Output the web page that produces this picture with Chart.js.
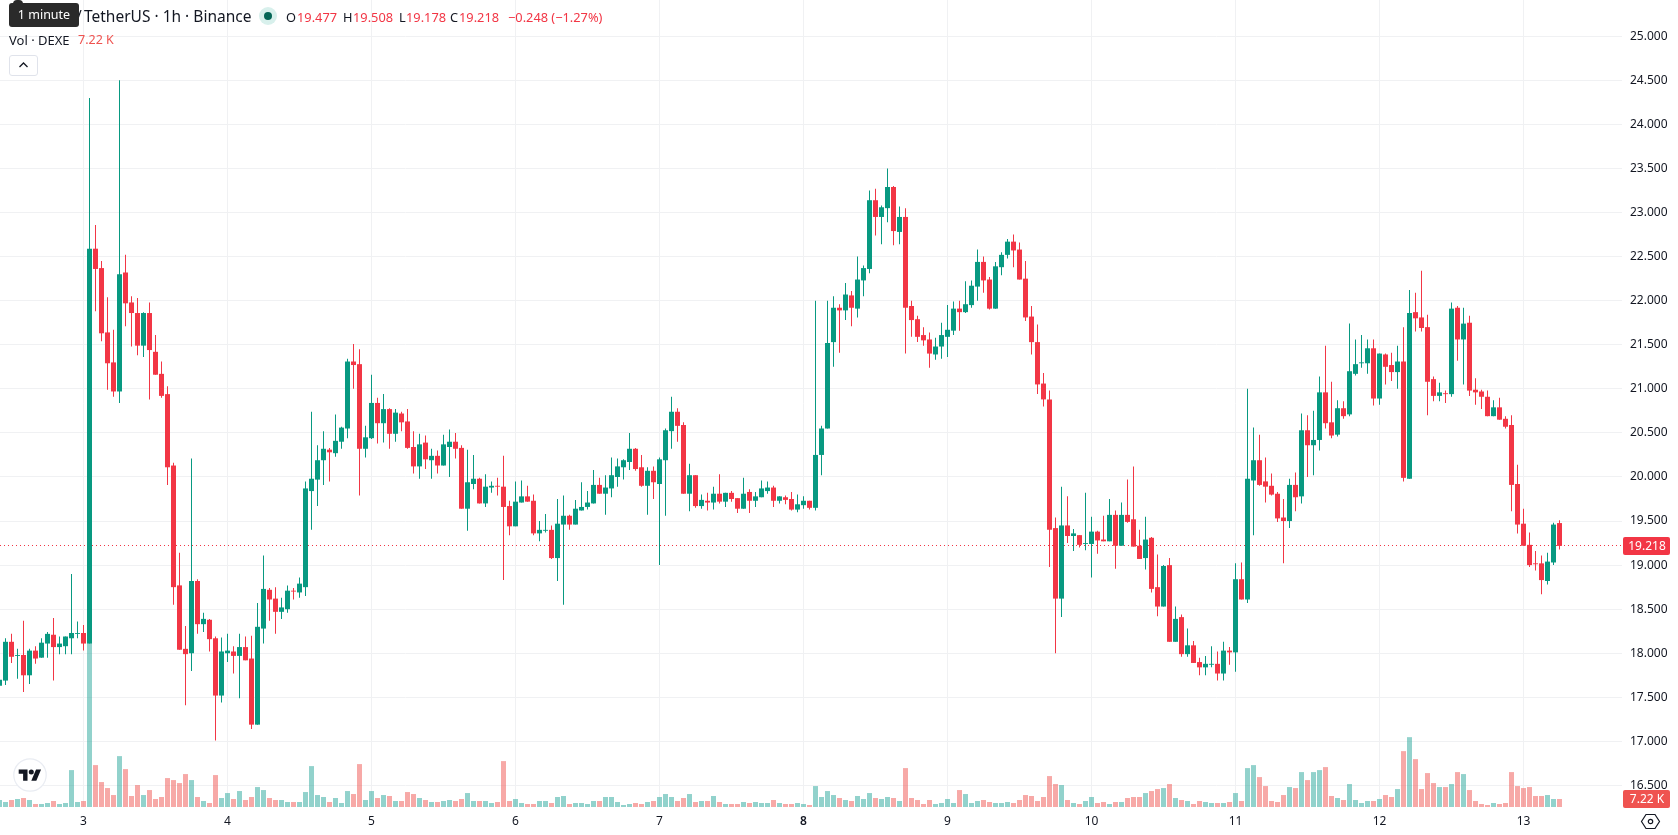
<!DOCTYPE html>
<html>
<head>
<meta charset="utf-8">
<title>DEXE / TetherUS</title>
<script src="https://cdn.jsdelivr.net/npm/chart.js@4/dist/chart.umd.min.js"></script>
<style>
    html, body { margin: 0; padding: 0; background: #fff; }
    body { width: 1678px; height: 835px; overflow: hidden; position: relative; font-family: "Noto Sans", sans-serif; color: #131722; }
    #wrap { position: absolute; left: 0; top: 0; width: 1678px; height: 835px; }
    .txt { position: absolute; white-space: nowrap; line-height: 18px; }
    .title { font-size: 15.5px; top: 7px; }
    .ohlc { font-size: 12.8px; top: 8px; }
    .red { color: #f23645; }
    #tip { position: absolute; left: 9px; top: 3px; width: 70px; height: 24px; background: #2a2a2a; border-radius: 3px; color: #fff; font-size: 12.5px; line-height: 24px; text-align: center; }
    #nub { position: absolute; left: 13px; top: 0; width: 10px; height: 6px; background: #2a2a2a; border-radius: 4px 4px 0 0; }
    #toggle { position: absolute; left: 9px; top: 55px; width: 27px; height: 19px; border: 1px solid #e0e3eb; border-radius: 3px; background: #fff; }
    #dot { position: absolute; left: 259px; top: 7px; width: 18px; height: 18px; border-radius: 50%; background: #d8f0ec; }
    #dot i { position: absolute; left: 5px; top: 5px; width: 8px; height: 8px; border-radius: 50%; background: #056656; }
    svg { position: absolute; }
</style>
</head>
<body>
<div id="wrap"><canvas id="priceChart" width="1678" height="835"></canvas></div>

<span class="txt title" style="left:76px">/</span>
<span class="txt title" style="left:84px">TetherUS · 1h · Binance</span>
<div id="nub"></div>
<div id="tip">1 minute</div>
<div id="dot"><i></i></div>
<span class="txt ohlc" style="left:286px">O</span><span class="txt ohlc red" style="left:297px">19.477</span>
<span class="txt ohlc" style="left:343px">H</span><span class="txt ohlc red" style="left:353px">19.508</span>
<span class="txt ohlc" style="left:399px">L</span><span class="txt ohlc red" style="left:406px">19.178</span>
<span class="txt ohlc" style="left:450px">C</span><span class="txt ohlc red" style="left:459px">19.218</span>
<span class="txt ohlc red" style="left:508px">−0.248 (−1.27%)</span>
<span class="txt" style="left:9px;top:31px;font-size:13px">Vol · DEXE</span>
<span class="txt" style="left:78px;top:31px;font-size:12.5px;color:#ef5350">7.22 K</span>
<div id="toggle"><svg width="27" height="19" viewBox="0 0 27 19"><path d="M9.5 11l4-4 4 4" fill="none" stroke="#131722" stroke-width="1.3"/></svg></div>

<svg style="left:13px;top:758px" width="34" height="34" viewBox="0 0 34 34">
    <circle cx="17" cy="17" r="16.2" fill="#fff" stroke="#e9ecf2" stroke-width="1.2"/>
    <g transform="translate(5.7 11.4) scale(0.63) translate(0 -4)"><path fill="#131722" d="M14 22H7V11H0V4h14v18zM28 22h-8l7.5-18h8L28 22z"/><circle fill="#131722" cx="20" cy="8" r="4"/></g>
</svg>
<svg style="left:1640px;top:811px" width="21" height="21" viewBox="0 0 21 21">
    <path d="M6 3.5h9l4.5 7-4.5 7H6l-4.5-7z" fill="none" stroke="#131722" stroke-width="1.2"/>
    <circle cx="10.5" cy="10.5" r="2.2" fill="none" stroke="#131722" stroke-width="1.2"/>
</svg>

<script>
// Hourly candles, oldest first
const opens = [
    17.63,17.69,18.13,17.97,17.98,17.75,18.03,17.95,18.11,18.21,18.07,18.08,18.17,18.22,
    18.23,18.11,22.59,22.37,21.64,21.30,20.97,22.32,21.98,21.86,21.49,21.86,21.42,21.17,20.94,20.13,18.77,18.05,18.00,18.82,18.33,18.38,18.17,17.52,
    18.00,18.02,17.97,18.07,17.94,17.19,18.28,18.72,18.62,18.47,18.50,18.71,18.69,18.75,19.84,19.97,20.19,20.31,20.27,20.40,20.55,21.31,21.28,20.32,
    20.44,20.84,20.61,20.77,20.49,20.72,20.63,20.34,20.12,20.39,20.19,20.24,20.13,20.34,20.40,20.33,19.64,19.92,19.98,19.70,19.88,19.90,19.89,19.67,
    19.44,19.71,19.78,19.73,19.36,19.39,19.40,19.08,19.46,19.56,19.46,19.62,19.66,19.70,19.91,19.81,19.87,20.00,20.11,20.17,20.32,20.11,19.90,20.07,
    19.92,20.19,20.52,20.74,20.59,19.81,20.02,19.67,19.73,19.71,19.81,19.72,19.82,19.76,19.64,19.83,19.73,19.77,19.84,19.88,19.73,19.77,19.75,19.63,
    19.68,19.73,19.65,20.25,20.55,21.53,21.92,21.89,22.06,21.91,22.23,22.36,23.14,22.95,23.05,23.29,22.78,22.95,21.94,21.79,21.61,21.56,21.39,21.48,
    21.59,21.66,21.91,21.87,21.95,22.16,22.44,22.24,21.91,22.38,22.52,22.67,22.58,22.25,21.82,21.53,21.06,20.88,19.42,18.62,19.45,19.33,19.34,19.24,
    19.24,19.38,19.29,19.27,19.57,19.22,19.57,19.52,19.22,19.08,19.31,18.75,18.53,19.00,18.13,18.41,17.99,18.09,17.90,17.84,17.87,17.88,17.77,18.03,
    18.01,18.84,18.61,19.96,20.19,19.95,19.90,19.81,19.54,19.50,19.91,19.78,20.53,20.36,20.42,20.96,20.62,20.48,20.78,20.71,21.17,21.29,21.29,21.46,
    20.89,21.39,21.27,21.19,21.31,19.98,21.87,21.81,21.70,21.11,20.92,20.95,20.94,21.92,21.56,21.75,20.99,20.97,20.91,20.69,20.79,20.66,20.59,19.92,
    19.47,19.23,19.02,19.02,18.82,19.03,19.477
];
const closes = [
    17.70,18.13,17.96,17.98,17.75,18.03,17.94,18.12,18.22,18.07,18.11,18.19,18.23,18.23,
    18.11,22.59,22.36,21.63,21.29,20.97,22.30,21.97,21.86,21.49,21.86,21.44,21.16,20.92,20.11,18.75,18.04,17.99,18.82,18.33,18.39,18.16,17.52,18.02,
    18.03,17.97,18.07,17.92,17.19,18.30,18.73,18.61,18.47,18.52,18.71,18.70,18.79,19.87,19.98,20.19,20.32,20.28,20.41,20.56,21.31,21.27,20.32,20.45,
    20.84,20.61,20.77,20.49,20.73,20.62,20.33,20.12,20.37,20.20,20.24,20.13,20.37,20.40,20.32,19.64,19.94,19.98,19.70,19.89,19.90,19.89,19.66,19.44,
    19.72,19.78,19.72,19.36,19.40,19.40,19.08,19.47,19.56,19.46,19.64,19.66,19.71,19.91,19.81,19.88,20.02,20.12,20.19,20.32,20.09,19.90,20.07,19.94,
    20.20,20.53,20.74,20.58,19.81,20.02,19.67,19.74,19.71,19.81,19.72,19.82,19.75,19.64,19.81,19.73,19.78,19.87,19.88,19.73,19.78,19.74,19.63,19.69,
    19.73,19.65,20.25,20.55,21.52,21.92,21.89,22.07,21.92,22.24,22.37,23.14,22.95,23.06,23.29,22.79,22.95,21.92,21.78,21.59,21.55,21.40,21.48,21.61,
    21.67,21.91,21.87,21.96,22.17,22.44,22.23,21.91,22.39,22.52,22.67,22.57,22.24,21.81,21.53,21.05,20.88,19.40,18.62,19.45,19.33,19.36,19.23,19.25,
    19.38,19.28,19.27,19.57,19.22,19.57,19.49,19.21,19.07,19.29,18.73,18.53,18.99,18.13,18.39,17.99,18.09,17.89,17.84,17.88,17.88,17.77,18.03,18.01,
    18.84,18.61,19.98,20.19,19.91,19.89,19.80,19.53,19.50,19.91,19.77,20.53,20.36,20.42,20.96,20.61,20.47,20.78,20.69,21.20,21.28,21.30,21.46,20.89,
    21.40,21.25,21.19,21.31,19.99,21.86,21.80,21.69,21.08,20.92,20.96,20.94,21.91,21.56,21.74,20.98,20.96,20.91,20.69,20.79,20.65,20.57,19.91,19.46,
    19.22,19.00,19.01,18.83,19.04,19.46,19.218
];
const highs = [
    17.72,18.17,18.22,18.05,18.37,18.05,18.08,18.17,18.24,18.40,18.19,18.19,18.90,18.36,
    18.32,24.30,22.86,22.45,22.04,21.67,24.50,22.52,22.05,22.03,21.87,21.98,21.61,21.31,21.03,20.16,19.14,18.31,20.21,18.84,18.46,18.39,18.19,18.18,
    18.22,18.08,18.22,18.19,18.20,18.57,19.11,18.74,18.75,18.63,18.77,18.74,18.86,19.95,20.74,20.36,20.52,20.33,20.71,20.57,21.34,21.51,21.45,20.58,
    21.16,20.90,20.94,20.78,20.77,20.74,20.77,20.52,20.49,20.47,20.32,20.30,20.48,20.54,20.50,20.36,20.31,20.25,19.99,20.03,19.95,19.99,20.24,19.73,
    19.95,19.96,19.90,19.80,19.50,19.58,19.45,19.75,19.79,19.57,19.74,19.94,19.84,20.08,19.99,20.02,20.22,20.21,20.20,20.50,20.33,20.25,20.11,20.12,
    20.22,20.55,20.91,20.78,20.62,20.15,20.02,19.80,19.82,19.89,20.03,19.82,19.84,19.76,19.99,19.86,19.83,19.96,19.95,19.90,19.78,19.79,19.83,19.80,
    19.78,19.73,22.00,20.58,22.00,22.05,21.96,22.20,22.11,22.50,22.40,23.25,23.27,23.08,23.50,23.30,23.07,23.05,22.00,21.83,21.70,21.64,21.58,21.75,
    21.95,21.99,22.00,22.22,22.23,22.58,22.50,22.27,22.44,22.55,22.70,22.75,22.66,22.45,21.94,21.73,21.18,20.98,19.54,19.89,19.78,19.41,19.34,19.82,
    19.55,19.39,19.56,19.75,19.62,19.71,19.97,20.12,19.40,19.55,19.32,19.12,19.00,19.08,18.53,18.44,18.28,18.14,17.95,17.97,18.08,18.02,18.13,18.07,
    19.02,19.03,21.00,20.56,20.48,20.22,20.04,19.83,19.75,19.98,20.05,20.72,20.70,20.75,21.14,21.49,21.08,20.87,20.86,21.74,21.56,21.61,21.56,21.56,
    21.40,21.40,21.41,21.49,21.70,22.12,22.09,22.34,21.84,21.14,21.07,20.98,21.98,21.94,21.92,21.83,21.12,20.99,20.98,20.87,20.90,20.69,20.70,20.14,
    19.64,19.37,19.16,19.11,19.14,19.48,19.508
];
const lows = [
    17.60,17.64,17.89,17.71,17.56,17.65,17.88,17.95,17.95,17.69,17.99,17.99,17.99,18.17,
    18.03,18.11,21.88,21.54,20.99,20.91,20.84,21.71,21.48,21.38,21.36,20.88,21.16,20.90,19.91,18.55,18.04,17.41,17.80,18.22,18.24,18.02,17.01,17.44,
    17.90,17.77,17.49,17.92,17.14,17.19,18.11,18.37,18.22,18.39,18.46,18.61,18.63,18.65,19.40,19.67,19.91,19.95,20.23,20.32,20.44,21.00,19.79,20.22,
    20.43,20.38,20.39,20.32,20.40,20.52,20.32,20.04,19.98,20.09,19.98,20.04,20.13,20.00,20.21,19.64,19.39,19.86,19.70,19.66,19.82,19.79,18.83,19.34,
    19.44,19.71,19.72,19.34,19.27,19.37,19.07,18.82,18.55,19.40,19.46,19.62,19.63,19.70,19.81,19.57,19.77,19.89,19.97,20.08,20.07,19.89,19.57,19.75,
    19.00,19.56,20.32,20.40,19.81,19.61,19.65,19.64,19.62,19.63,19.70,19.66,19.72,19.59,19.64,19.59,19.66,19.77,19.81,19.66,19.70,19.69,19.62,19.60,
    19.64,19.63,19.62,20.02,20.55,21.25,21.41,21.78,21.71,21.81,22.05,22.31,22.74,22.64,22.89,22.63,22.64,21.40,21.59,21.53,21.49,21.24,21.33,21.34,
    21.36,21.61,21.66,21.86,21.92,22.00,22.09,21.90,21.91,22.29,22.48,22.38,22.24,21.77,21.39,20.94,20.80,18.98,18.00,18.41,19.25,19.16,19.20,19.17,
    18.86,19.13,19.27,19.27,18.96,19.22,19.48,19.21,19.07,18.95,18.69,18.42,18.53,18.13,18.13,17.96,17.96,17.89,17.75,17.75,17.84,17.69,17.69,17.87,
    17.79,18.61,18.57,19.34,19.90,19.71,19.79,19.49,19.02,19.42,19.61,19.70,20.00,20.02,20.30,20.55,20.44,20.46,20.66,20.69,21.15,21.24,21.17,20.81,
    20.82,21.05,21.09,21.00,19.95,19.98,21.65,21.65,20.70,20.86,20.86,20.84,20.91,21.32,21.05,20.92,20.82,20.77,20.69,20.69,20.65,20.55,19.61,19.36,
    19.22,18.98,18.94,18.67,18.78,19.00,19.178
];
// Volume per candle, in thousands
const volumes = [
    6.3,4.5,6.3,7.2,8.1,6.3,2.7,2.7,3.6,5.4,2.7,3.6,33.3,4.5,
    5.4,150,37.8,22.5,17.1,10.8,45.9,34.2,9.9,19.8,10.8,15.3,7.2,9,26.1,24.3,21.6,29.7,24.3,9,5.4,3.6,28.8,8.1,
    12.6,7.2,14.4,6.3,9,18,15.3,8.1,6.3,6.3,4.5,4.5,4.5,13.5,36.9,10.8,9,4.5,8.1,3.6,14.4,11.7,38.7,6.3,
    14.4,8.1,10.8,9.9,5.4,5.4,13.5,11.7,8.1,6.3,4.5,4.5,5.4,6.3,5.4,7.2,12.6,5.4,5.4,5.4,3.6,4.5,41.4,5.4,
    7.2,3.6,2.7,2.7,5.4,5.4,3.6,9,9.9,2.7,3.6,3.6,2.7,5.4,5.4,9,9,4.5,1.8,2.7,3.6,2.7,4.5,5.4,
    9,11.7,9,5.4,8.1,11.7,4.5,5.4,5.4,9.9,4.5,2.7,2.7,2.7,4.5,3.6,4.5,3.6,3.6,6.3,3.6,2.7,2.7,3.6,
    2.7,1.8,18.9,9,14.4,10.8,8.1,6.3,5.4,9.9,7.2,12.6,8.1,7.2,9,8.1,5.4,35.1,8.1,6.3,2.7,6.3,2.7,3.6,
    7.2,3.6,15.3,11.7,3.6,5.4,6.3,4.5,3.6,3.6,4.5,3.6,6.3,10.8,9.9,5.4,9,27.9,20.7,19.8,6.3,3.6,2.7,5.4,
    9,3.6,4.5,2.7,4.5,4.5,8.1,9,9,12.6,14.4,16.2,17.1,20.7,8.1,6.3,5.4,2.7,5.4,4.5,3.6,3.6,3.6,4.5,
    12.6,5.4,35.1,37.8,27,18.9,5.4,4.5,10.8,18,17.1,31.5,24.3,31.5,33.3,36,9.9,8.1,6.3,20.7,6.3,3.6,5.4,5.4,
    7.2,10.8,9,16.2,50.4,63,43.2,16.2,30.6,21.6,18,18,20.7,31.5,29.7,15.3,5.4,2.7,1.8,3.6,2.7,3.6,31.5,18.9,
    17.1,18,9.9,9.9,10.8,7.2,7.22
];

const dayLabels = ['3', '4', '5', '6', '7', '8', '9', '10', '11', '12', '13'];
const dayIndexes = [14, 38, 62, 86, 110, 134, 158, 182, 206, 230, 254];
const priceTicks = [16.5, 17, 17.5, 18, 18.5, 19, 19.5, 20, 20.5, 21, 21.5, 22, 22.5, 23, 23.5, 24, 24.5, 25];

const GREEN = '#089981';
const RED = '#f23645';
const VOL_GREEN = 'rgba(38,166,154,0.5)';
const VOL_RED = 'rgba(239,83,80,0.5)';
const GRID = '#f0f1f3';
const LABEL_RED = '#ef5350';

const isUp = closes.map((c, i) => c >= opens[i]);
const lastClose = closes[closes.length - 1];
const lastVolume = volumes[volumes.length - 1];

const barBase = { type: 'bar', grouped: false, borderWidth: 0, borderSkipped: false, inflateAmount: 0 };

const datasets = [
    {
        ...barBase,
        label: 'Volume',
        yAxisID: 'vol',
        order: 3,
        barThickness: 5,
        maxBarThickness: 5,
        data: volumes.map((v, i) => ({ x: i, y: v })),
        backgroundColor: isUp.map(u => u ? VOL_GREEN : VOL_RED)
    },
    {
        ...barBase,
        label: 'Wick',
        yAxisID: 'y',
        order: 2,
        barThickness: 1,
        maxBarThickness: 1,
        data: highs.map((h, i) => ({ x: i, y: [lows[i], h] })),
        backgroundColor: isUp.map(u => u ? GREEN : RED)
    },
    {
        ...barBase,
        label: 'Body',
        yAxisID: 'y',
        order: 1,
        barThickness: 5,
        maxBarThickness: 5,
        data: opens.map((o, i) => ({ x: i, y: [o, closes[i]] })),
        backgroundColor: isUp.map(u => u ? GREEN : RED)
    }
];

// Dotted last-price line, kept on a whole pixel row so the dots stay sharp
const lastPriceLine = {
    id: 'lastPriceLine',
    beforeDatasetsDraw(chart) {
        const { ctx, chartArea, scales } = chart;
        const y = Math.floor(scales.y.getPixelForValue(lastClose)) + 0.5;
        ctx.save();
        ctx.strokeStyle = RED;
        ctx.lineWidth = 1;
        ctx.setLineDash([1, 3]);
        ctx.beginPath();
        ctx.moveTo(chartArea.left, y);
        ctx.lineTo(chartArea.right, y);
        ctx.stroke();
        ctx.restore();
    }
};

// Red price tags on the right axis for the last close and last volume
const axisTags = {
    id: 'axisTags',
    afterDraw(chart) {
        const { ctx, scales } = chart;
        const left = chart.chartArea.right + 1;
        const drawTag = (cy, color, text) => {
            ctx.save();
            ctx.fillStyle = color;
            ctx.beginPath();
            ctx.roundRect(left, Math.round(cy) - 9, 47, 18, 2);
            ctx.fill();
            ctx.fillStyle = '#fff';
            ctx.font = '12px "Noto Sans"';
            ctx.textAlign = 'center';
            ctx.textBaseline = 'middle';
            ctx.fillText(text, left + 24, Math.round(cy) + 0.5);
            ctx.restore();
        };
        drawTag(scales.y.getPixelForValue(lastClose), RED, lastClose.toFixed(3));
        drawTag(scales.vol.getPixelForValue(0) - 8, LABEL_RED, lastVolume.toFixed(2) + ' K');
    }
};

new Chart(document.getElementById('priceChart'), {
    data: { datasets },
    plugins: [lastPriceLine, axisTags],
    options: {
        responsive: false,
        animation: false,
        events: [],
        layout: { padding: 0 },
        plugins: { legend: { display: false }, tooltip: { enabled: false } },
        scales: {
            x: {
                type: 'linear',
                min: 1 / 12,
                max: 270 + 5 / 12,
                offset: false,
                grid: { offset: false, color: GRID, drawTicks: false },
                border: { display: false },
                afterBuildTicks(scale) {
                    scale.ticks = dayIndexes.map(v => ({ value: v }));
                },
                afterFit(scale) {
                    scale.height = 28;
                    scale.paddingLeft = 0;
                    scale.paddingRight = 0;
                },
                ticks: {
                    autoSkip: false,
                    maxRotation: 0,
                    padding: 7,
                    color: '#131722',
                    font: ctx => ({
                        family: '"Noto Sans"',
                        size: 12,
                        weight: ctx.tick && ctx.tick.value === 134 ? '600' : '400'
                    }),
                    callback: value => dayLabels[dayIndexes.indexOf(value)]
                }
            },
            y: {
                type: 'linear',
                position: 'right',
                min: 16.2557,
                max: 25.4115,
                grid: { color: GRID, drawTicks: false },
                border: { display: false },
                afterBuildTicks(scale) {
                    scale.ticks = priceTicks.map(v => ({ value: v }));
                },
                afterFit(scale) {
                    scale.width = 56;
                    scale.paddingTop = 0;
                    scale.paddingBottom = 0;
                },
                ticks: {
                    autoSkip: false,
                    padding: 8,
                    color: '#131722',
                    font: { family: '"Noto Sans"', size: 12 },
                    callback: value => value.toFixed(3)
                }
            },
            vol: {
                type: 'linear',
                display: false,
                min: 0,
                max: 728
            }
        }
    }
});
</script>
</body>
</html>
